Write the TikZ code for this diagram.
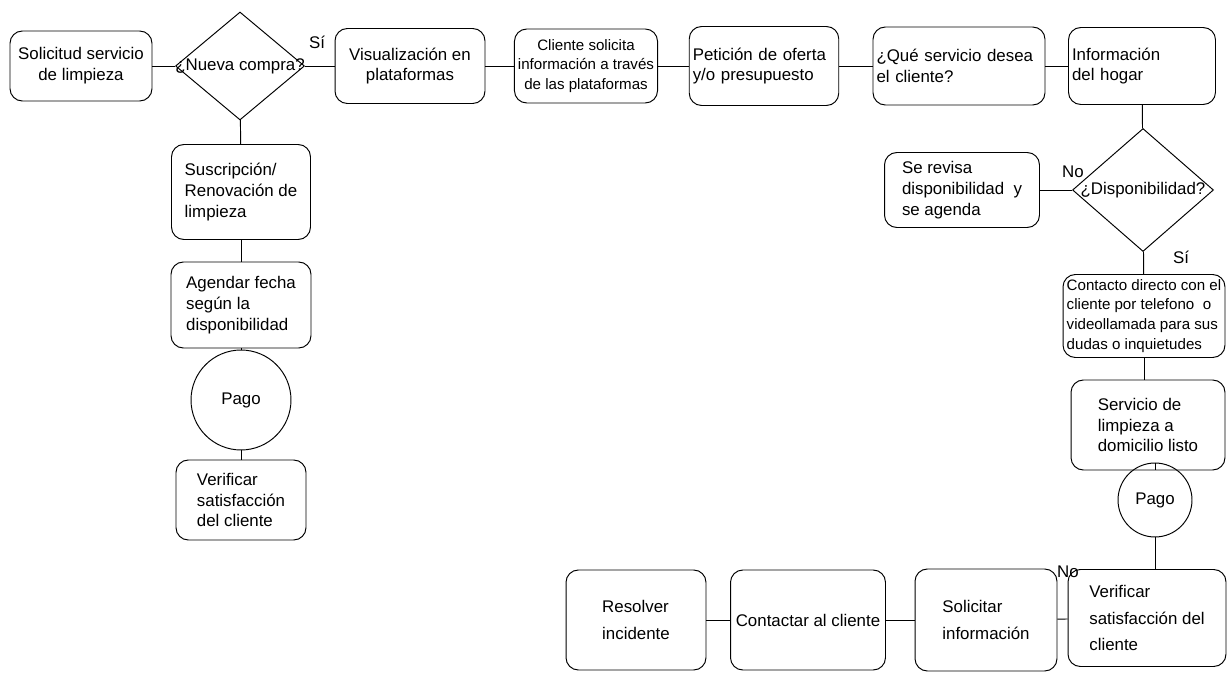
\documentclass[tikz,border=0pt]{standalone}
\usepackage{fontspec}
\setmainfont{Liberation Sans}
\usetikzlibrary{shapes.geometric}

\begin{document}
\begin{tikzpicture}[x=0.02cm,y=-0.02cm,line width=0.55pt,
	font=\fontsize{9.6}{11.8}\selectfont,
	box/.style={draw,rounded corners=7pt,align=left,inner sep=2pt},
	dec/.style={draw,diamond,inner sep=0pt},
	pay/.style={draw,circle,inner sep=0pt},
	tag/.style={inner sep=0pt},
	small/.style={font=\fontsize{8.6}{11.3}\selectfont},
	tall/.style={font=\fontsize{9.6}{15.2}\selectfont}]
	\useasboundingbox (0,0) rectangle (1231,675);
	% fila superior
	\draw (81,66) node (sol) [box,align=center,minimum width=2.84cm,minimum height=1.4cm] {Solicitud servicio\\de limpieza};
	\draw (240,66) node (nueva) [dec,minimum width=2.58cm,minimum height=2.16cm] {};
	\draw (nueva) node (nuevat) {¿Nueva compra?};
	\draw (410,66) node (vis) [box,align=center,minimum width=3cm,minimum height=1.5cm] {Visualización en\\plataformas};
	\draw (586,66) node (cli) [box,small,align=center,minimum width=2.82cm,minimum height=1.48cm] {Cliente solicita\\información a través\\de las plataformas};
	\draw (764,66) node (pet) [box,text width=2.85cm,minimum height=1.58cm] {Petición de oferta\\y/o presupuesto};
	\draw (959,66) node (que) [box,text width=3.3cm,minimum height=1.56cm] {¿Qué servicio desea\\el cliente?};
	\draw (1142,66) node (inf) [box,text width=2.8cm,minimum height=1.54cm] {Información\\del hogar};
	\draw (sol) -- (nueva);
	\draw (nueva) -- (vis);
	\draw (vis) -- (cli);
	\draw (cli) -- (pet);
	\draw (pet) -- (que);
	\draw (que) -- (inf);
	\draw (317,42) node (si1) [tag] {Sí};
	% columna derecha
	\draw (1143,190) node (disp) [dec,minimum width=2.82cm,minimum height=2.46cm] {};
	\draw (disp) node (dispt) {¿Disponibilidad?};
	\draw (962,190) node (rev) [box,minimum width=3.1cm,minimum height=1.5cm] {Se revisa\\disponibilidad~ y\\se agenda};
	\draw (1144,316) node (cont) [box,small,inner sep=1pt,minimum width=3.24cm,minimum height=1.66cm] {Contacto directo con el\\cliente por telefono~ o\\videollamada para sus\\dudas o inquietudes};
	\draw (1148,425) node (serv) [box,minimum width=3.08cm,minimum height=1.8cm] {Servicio de\\limpieza a\\domicilio listo};
	\draw (1155,500) node (pago2) [pay,minimum size=1.48cm] {Pago};
	\draw (1147,618) node (ver2) [box,tall,minimum width=3.16cm,minimum height=1.94cm] {Verificar\\satisfacción del\\cliente};
	\draw (inf) -- (disp);
	\draw (disp) -- (rev);
	\draw (disp) -- (cont);
	\draw (cont) -- (cont |- serv.north);
	\draw (pago2.north) -- (pago2.north |- serv.south);
	\draw (pago2.south) -- (pago2.south |- ver2.north);
	\draw (1073,172) node (no1) [tag] {No};
	\draw (1181,257) node (si2) [tag] {Sí};
	% fila inferior
	\draw (986,620) node (soli) [box,tall,minimum width=2.84cm,minimum height=2.04cm] {Solicitar\\información};
	\draw (808,620) node (conta) [box,minimum width=3.1cm,minimum height=2cm] {Contactar al cliente};
	\draw (636,620) node (reso) [box,tall,minimum width=2.8cm,minimum height=2cm] {Resolver\\incidente};
	\draw (ver2) -- (soli);
	\draw (soli) -- (conta);
	\draw (conta) -- (reso);
	\draw (1068,572) node (no2) [tag] {No};
	% columna izquierda
	\draw (241,192) node (sus) [box,minimum width=2.78cm,minimum height=1.9cm] {Suscripción/\\Renovación de\\limpieza};
	\draw (241,305) node (age) [box,minimum width=2.8cm,minimum height=1.72cm] {Agendar fecha\\según la\\disponibilidad};
	\draw (241,400) node (pago1) [pay,minimum size=2cm] {Pago};
	\draw (241,500) node (ver1) [box,minimum width=2.6cm,minimum height=1.6cm] {Verificar\\satisfacción\\del cliente};
	\draw (nueva) -- (sus);
	\draw (sus) -- (age);
	\draw (age) -- (pago1);
	\draw (pago1) -- (ver1);
\end{tikzpicture}
\end{document}
